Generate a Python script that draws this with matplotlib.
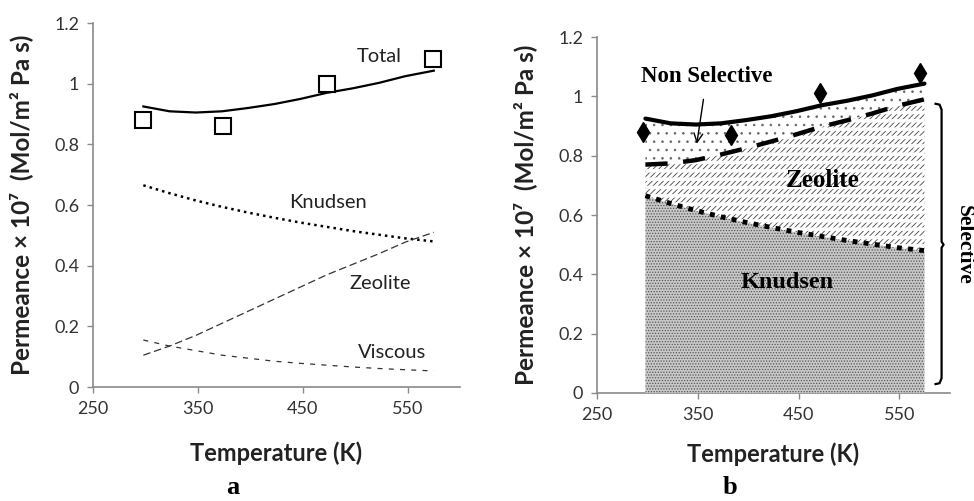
import numpy as np
import matplotlib
matplotlib.use('Agg')
import matplotlib.pyplot as plt

plt.rcParams['font.family'] = ['Lato', 'DejaVu Sans']
plt.rcParams['hatch.linewidth'] = 0.6

# Model curves (temperature in K, permeance x 1e7 in mol/m2 Pa s)
temp = [298, 323, 348, 373, 398, 423, 448, 473, 498, 523, 548, 575]
knudsen = [0.665, 0.639, 0.615, 0.594, 0.575, 0.558, 0.542, 0.528, 0.514, 0.502, 0.490, 0.480]
zeolite = [0.105, 0.135, 0.170, 0.210, 0.250, 0.290, 0.330, 0.370, 0.405, 0.440, 0.478, 0.510]
viscous = [0.155, 0.135, 0.120, 0.105, 0.095, 0.085, 0.078, 0.072, 0.066, 0.061, 0.057, 0.053]

# Measured permeance
exp_temp_a = [298, 374, 473, 574]
exp_temp_b = [296, 383, 471, 571]
exp_perm = [0.88, 0.86, 1.00, 1.08]
exp_perm_b = [0.88, 0.87, 1.01, 1.08]

xticks = [250, 350, 450, 550]
yticks = [0, 0.2, 0.4, 0.6, 0.8, 1.0, 1.2]
ytick_labels = ['0', '0.2', '0.4', '0.6', '0.8', '1', '1.2']

T = np.array(temp)
kn = np.array(knudsen)
ze = np.array(zeolite)
vi = np.array(viscous)
kz = kn + ze
total = kn + ze + vi

fig = plt.figure(figsize=(9.74, 5.01), dpi=100)
ax1 = fig.add_axes([0.0955, 0.2275, 0.3768, 0.7265])
ax2 = fig.add_axes([0.613, 0.2156, 0.362, 0.7105])

ylab = 'Permeance × 10⁷  (Mol/m² Pa s)'
for ax in (ax1, ax2):
    ax.set_xlim(250, 600)
    ax.set_ylim(0, 1.2)
    ax.set_xticks(xticks)
    ax.set_yticks(yticks)
    ax.set_yticklabels(ytick_labels)
    for s in ('top', 'right'):
        ax.spines[s].set_visible(False)
    for s in ('left', 'bottom'):
        ax.spines[s].set_color('#8a8a8a')
        ax.spines[s].set_linewidth(1.2)
    ax.tick_params(direction='out', length=4, width=1, color='#8a8a8a',
                   labelsize=13, labelcolor='#333333', pad=6)
    ax.set_xlabel('Temperature (K)', fontsize=17, fontweight='bold', color='#222222')
    ax.set_ylabel(ylab, fontsize=17.5, fontweight='bold', color='#222222')

ax1.yaxis.set_label_coords(-0.163, 0.5)
ax1.xaxis.set_label_coords(0.5, -0.15)
ax2.yaxis.set_label_coords(-0.171, 0.5)
ax2.xaxis.set_label_coords(0.5, -0.138)

# Panel a: contributions as separate lines
ax1.plot(T, total, color='black', lw=1.6)
ax1.plot(T, kn, color='black', lw=1.8, linestyle=(0, (1, 1.6)))
ax1.plot(T, ze, color='#333333', lw=0.9, linestyle=(0, (6, 3)))
ax1.plot(T, vi, color='#333333', lw=0.9, linestyle=(0, (4, 5)))
ax1.plot(exp_temp_a, exp_perm, linestyle='none', marker='s', markersize=11,
         markerfacecolor='white', markeredgecolor='black', markeredgewidth=1.5)

lab_kw = dict(fontsize=14.5, color='#222222', ha='center', va='center')
ax1.text(523, 1.09, 'Total', **lab_kw)
ax1.text(474, 0.61, 'Knudsen', **lab_kw)
ax1.text(524, 0.34, 'Zeolite', **lab_kw)
ax1.text(535, 0.115, 'Viscous', **lab_kw)

# Panel b: stacked regions
ax2.fill_between(T, 0, kn, facecolor='#c8c8c8', edgecolor='#555555',
                 hatch='......', linewidth=0, zorder=3)
ax2.fill_between(T, kn, kz, facecolor='white', edgecolor='#444444',
                 hatch='//////', linewidth=0, zorder=3)
# white rows break the diagonal hatch into short slashes
breaks = ax2.fill_between(T, kn, kz, facecolor='none', edgecolor='white',
                          hatch='--', linewidth=0, zorder=3.1)
if hasattr(breaks, 'set_hatch_linewidth'):
    breaks.set_hatch_linewidth(2.5)
ax2.fill_between(T, kz, total, facecolor='white', edgecolor='#666666',
                 hatch='..', linewidth=0, zorder=3)

ax2.plot(T, total, color='black', lw=3, zorder=4, solid_capstyle='round')
ax2.plot(T, kz, color='black', lw=3.2, linestyle=(0, (5, 3.5)), zorder=4)
ax2.plot(T, kn, color='black', lw=3.5, linestyle=(0, (1, 1.3)), zorder=4)
ax2.plot(exp_temp_b, exp_perm_b, linestyle='none', marker='d', markersize=10,
         color='black', zorder=5)

serif = ['Liberation Serif', 'DejaVu Serif']
ax2.text(474, 0.715, 'Zeolite', family=serif, fontsize=18, fontweight='bold',
         ha='center', va='center', zorder=6)
ax2.text(439, 0.372, 'Knudsen', family=serif, fontsize=17.5, fontweight='bold',
         ha='center', va='center', zorder=6)
ax2.annotate('Non Selective', xy=(349, 0.84), xytext=(359, 1.067),
             family=serif, fontsize=16.5, fontweight='bold', ha='center', va='center',
             arrowprops=dict(arrowstyle='->', lw=1, color='black',
                             shrinkA=7, shrinkB=0, mutation_scale=16),
             zorder=6)

# Curly brace marking the selective part
bx, bt, bb, bm = 592, 0.975, 0.03, 0.5
brace_x = [bx - 6, bx - 2, bx, bx, bx + 2, bx, bx, bx - 2, bx - 6]
brace_y = [bt, bt - 0.003, bt - 0.02, bm + 0.01, bm, bm - 0.01, bb + 0.02, bb + 0.003, bb]
ax2.plot(brace_x, brace_y, color='black', lw=1.6, clip_on=False)
ax2.text(614, 0.5, 'Selective', family=serif, fontsize=15.5, fontweight='bold',
         rotation=270, ha='center', va='center', clip_on=False)

fig.text(233 / 974, 1 - 494 / 501, 'a', family=serif, fontsize=19, fontweight='bold',
         ha='center', va='baseline')
fig.text(730 / 974, 1 - 494 / 501, 'b', family=serif, fontsize=19, fontweight='bold',
         ha='center', va='baseline')

fig.savefig('out.png', dpi=100)
